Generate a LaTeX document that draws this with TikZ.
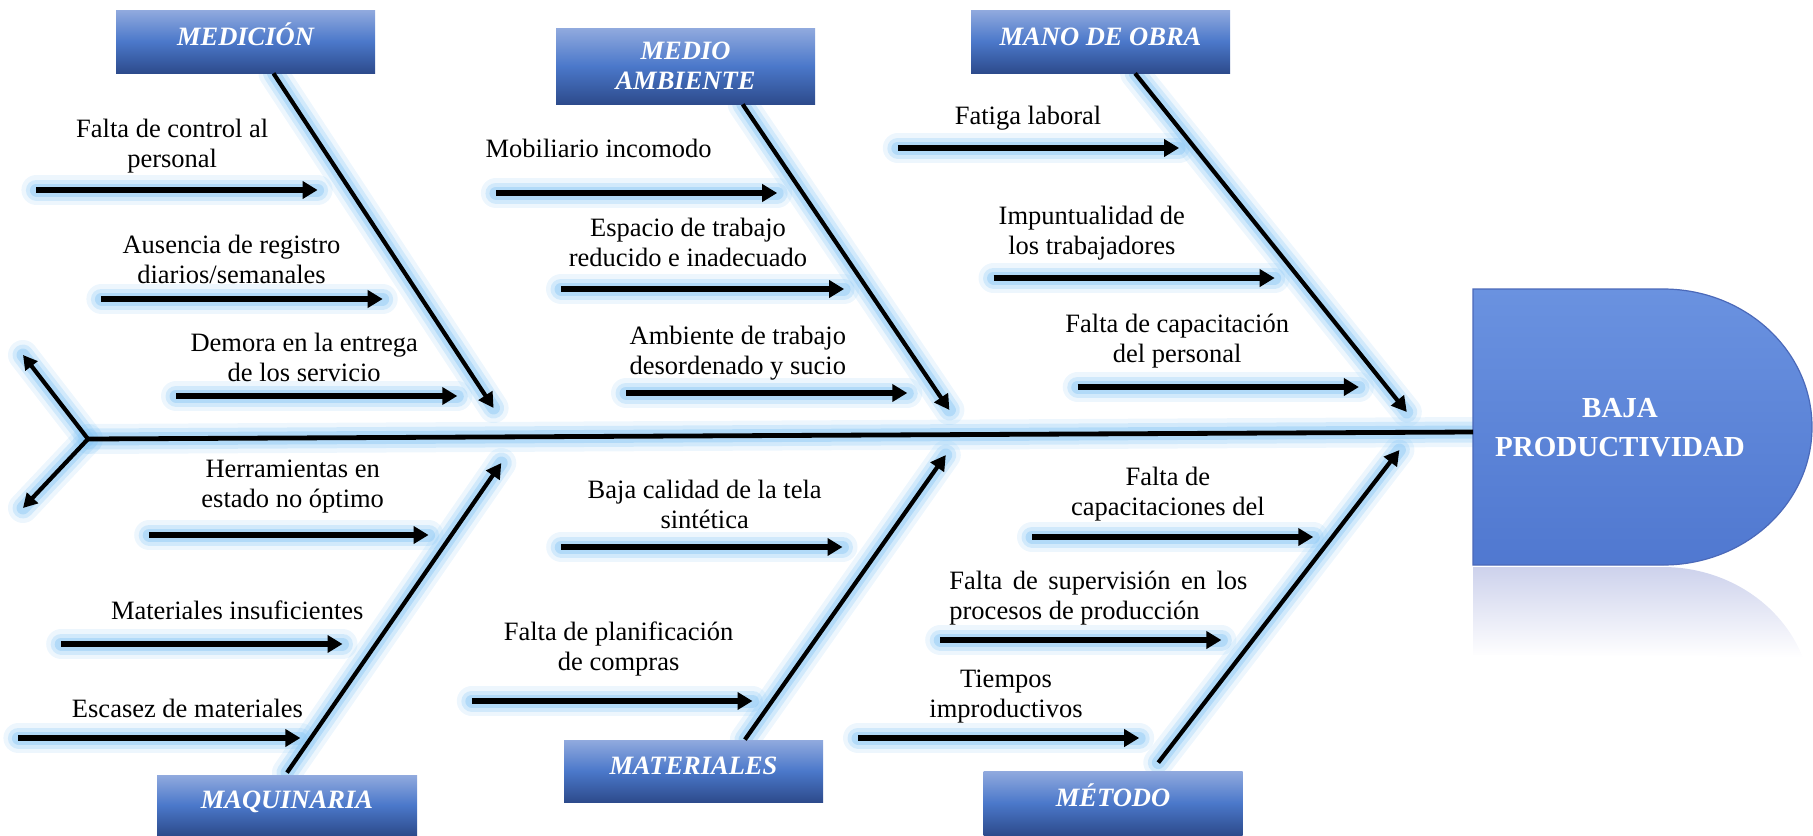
\documentclass[tikz,border=0pt]{standalone}
\usepackage{fontspec}
\setmainfont{Liberation Serif}
\usetikzlibrary{arrows.meta}
\definecolor{glowc}{RGB}{140,200,245}
\definecolor{hdtop}{RGB}{145,170,222}
\definecolor{hdmid}{RGB}{75,120,202}
\definecolor{hdbot}{RGB}{45,75,140}
\definecolor{eftop}{RGB}{106,146,224}
\definecolor{efbot}{RGB}{80,120,208}
\definecolor{efborder}{RGB}{75,105,185}
\definecolor{reflc}{RGB}{205,210,236}
\pgfdeclarelayer{glowlayer}
\pgfsetlayers{glowlayer,main}
\newcommand\fbconnect[3]{%
  \begin{pgfonlayer}{glowlayer}
    \draw[glowA] #2 -- #3;
    \draw[glowB] #2 -- #3;
    \draw[glowC] #2 -- #3;
  \end{pgfonlayer}
  \draw[#1] #2 -- #3;}
\begin{document}
\begin{tikzpicture}[x=0.5pt,y=-0.5pt,
  cause/.style={font=\fontsize{13.25pt}{15pt}\selectfont, align=center, inner sep=0pt},
  header/.style={top color=hdtop, bottom color=hdbot, middle color=hdmid, text=white,
    font=\fontsize{13.25pt}{15pt}\selectfont\bfseries\itshape, align=center, inner sep=0pt},
  hdlift/.style={text height=8.7pt, text depth=5pt},
  glowA/.style={draw=glowc, line cap=round, line width=15pt, draw opacity=0.16},
  glowB/.style={draw=glowc, line cap=round, line width=10.5pt, draw opacity=0.28},
  glowC/.style={draw=glowc, line cap=round, line width=6.5pt, draw opacity=0.45},
  bone/.style={line width=2.1pt, -{Triangle[length=7.5pt,width=8pt]}},
  causearrow/.style={line width=2.6pt, -{Triangle[length=7.5pt,width=8.5pt]}},
  spine/.style={line width=2.4pt},
  tailarrow/.style={line width=2.1pt, -{Triangle[length=7pt,width=7.5pt]}},
]
\useasboundingbox (0,0) rectangle (1813,835);

% ---------- effect ----------
\begin{scope}
  \clip (1473,567) rectangle (1813,660);
  \shade[top color=reflc, bottom color=white]
    (1473,567) -- (1663,567) arc[start angle=-90, end angle=-20.35, x radius=149, y radius=138]
    -- (1473,655) -- cycle;
\end{scope}
\shade[top color=eftop, bottom color=efbot, draw=efborder, line width=0.6pt]
  (1473,289) -- (1663,289) arc[start angle=-90, end angle=90, x radius=149, y radius=138]
  -- (1473,565) -- cycle;
\node[text=white, font=\fontsize{14.5pt}{19.5pt}\selectfont\bfseries, align=center, inner sep=0pt]
  (effect) at (1620,427.5) {BAJA\\PRODUCTIVIDAD};

% ---------- headers ----------
\node[header, hdlift, minimum width=129.5pt, minimum height=31.5pt] (medicion) at (245.5,41.5) {MEDICIÓN};
\node[header, minimum width=129.5pt, minimum height=38pt] (medioamb) at (685.5,66) {MEDIO\\AMBIENTE};
\node[header, hdlift, minimum width=129.5pt, minimum height=31.5pt] (manoobra) at (1100.5,41.5) {MANO DE OBRA};
\node[header, hdlift, minimum width=130pt, minimum height=30pt] (maquinaria) at (287,805) {MAQUINARIA};
\node[header, hdlift, minimum width=129.5pt, minimum height=31pt] (materiales) at (693.5,771) {MATERIALES};
\node[header, hdlift, minimum width=129.5pt, minimum height=32pt] (metodo) at (1113,803) {MÉTODO};

% ---------- spine and tail ----------
\coordinate (tail) at (88,439);
\coordinate (head) at (1473,432);
\coordinate (tup) at (23,355);
\coordinate (tdown) at (23,508);
\fbconnect{spine}{(tail)}{(head)}
\fbconnect{tailarrow}{(tail)}{(tup)}
\fbconnect{tailarrow}{(tail)}{(tdown)}

% ---------- bones ----------
\coordinate (t1) at (493.6,408);
\coordinate (t2) at (949.4,410);
\coordinate (t3) at (1406.8,412);
\coordinate (t4) at (501.3,463);
\coordinate (t5) at (945.8,455);
\coordinate (t6) at (1399.4,450);
\fbconnect{bone}{([xshift=14pt]medicion.south)}{(t1)}
\fbconnect{bone}{([xshift=28.6pt]medioamb.south)}{(t2)}
\fbconnect{bone}{([xshift=17.3pt]manoobra.south)}{(t3)}
\fbconnect{bone}{([yshift=1pt]maquinaria.north)}{(t4)}
\fbconnect{bone}{([xshift=25.7pt]materiales.north)}{(t5)}
\fbconnect{bone}{([xshift=22.65pt,yshift=4pt]metodo.north)}{(t6)}

% ---------- cause arrows ----------
\coordinate (a1s) at (36.4,190);   \coordinate (a1e) at (317.6,190);
\coordinate (a2s) at (101.4,299);  \coordinate (a2e) at (382.7,299);
\coordinate (a3s) at (176,396);    \coordinate (a3e) at (457.3,396);
\coordinate (a4s) at (495.9,193);  \coordinate (a4e) at (777.2,193);
\coordinate (a5s) at (561,289);    \coordinate (a5e) at (844.1,289);
\coordinate (a6s) at (626,393);    \coordinate (a6e) at (907.3,393);
\coordinate (a7s) at (897.8,148);  \coordinate (a7e) at (1179.1,148);
\coordinate (a8s) at (993.5,278);  \coordinate (a8e) at (1274.7,278);
\coordinate (a9s) at (1077.7,387); \coordinate (a9e) at (1358.9,387);
\coordinate (a10s) at (149.2,535); \coordinate (a10e) at (428.6,535);
\coordinate (a11s) at (61.2,644);  \coordinate (a11e) at (342.5,644);
\coordinate (a12s) at (18.4,738);  \coordinate (a12e) at (300.4,738);
\coordinate (a13s) at (561.2,547); \coordinate (a13e) at (842.5,547);
\coordinate (a14s) at (471.8,701); \coordinate (a14e) at (752.5,701);
\coordinate (a15s) at (1032,537);  \coordinate (a15e) at (1313.3,537);
\coordinate (a16s) at (940.2,640); \coordinate (a16e) at (1221.4,640);
\coordinate (a17s) at (858,738);   \coordinate (a17e) at (1139.2,738);
\foreach \i in {1,...,17}{\fbconnect{causearrow}{(a\i s)}{(a\i e)}}

% ---------- cause texts ----------
\node[cause] (c1) at (172.2,146) {Falta de control al\\personal};
\node[cause] (c2) at (231.5,259.5) {Ausencia de registro\\diarios/semanales};
\node[cause] (c3) at (304.2,357) {Demora en la entrega\\de los servicio};
\node[cause] (c4) at (598.6,148) {Mobiliario incomodo};
\node[cause] (c5) at (688,242) {Espacio de trabajo\\reducido e inadecuado};
\node[cause] (c6) at (737.8,353) {Ambiente de trabajo\\desordenado y sucio};
\node[cause] (c7) at (1028,118) {Fatiga laboral};
\node[cause] (c8) at (1091.8,233) {Impuntualidad de\\los trabajadores};
\node[cause] (c9) at (1177.2,341) {Falta de capacitación\\del personal};
\node[cause] (c10) at (292.7,487) {Herramientas en\\estado no óptimo};
\node[cause] (c11) at (237.2,610) {Materiales insuficientes};
\node[cause] (c12) at (187.5,708) {Escasez de materiales};
\node[cause] (c13) at (704.7,504) {Baja calidad de la tela\\sintética};
\node[cause] (c14) at (618.6,649) {Falta de planificación\\de compras};
\node[cause] (c15) at (1167.9,494) {Falta de\\capacitaciones del};
\node[cause, align=justify, text width=149pt, anchor=west] (c16) at (949,598)
  {Falta de supervisión en los\linebreak procesos de producción};
\node[cause] (c17) at (1006,696.5) {Tiempos\\improductivos};
\end{tikzpicture}
\end{document}
